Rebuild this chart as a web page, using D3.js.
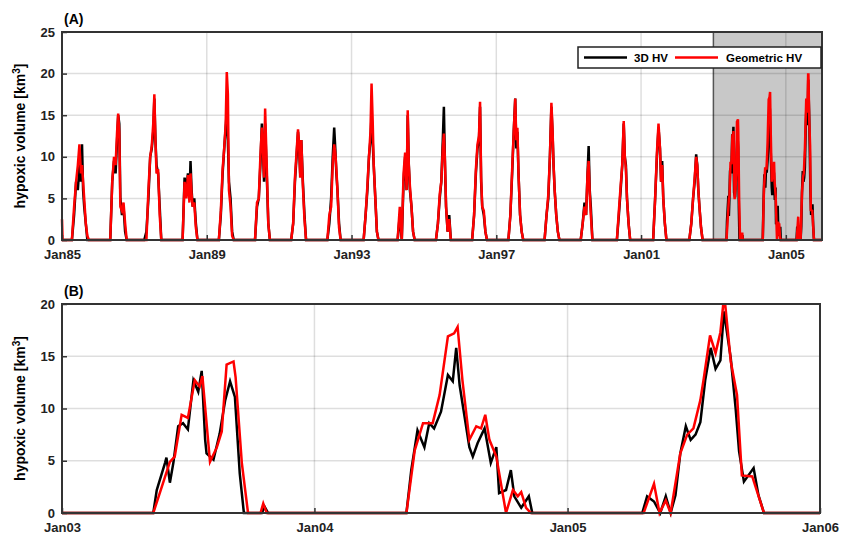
<!DOCTYPE html>
<html>
<head>
<meta charset="utf-8">
<script src="https://cdn.jsdelivr.net/npm/d3@7"></script>
<style>
body { margin: 0; background: #fff; }
text { font-family: "Liberation Sans", Arial, sans-serif; font-weight: bold; }
</style>
</head>
<body>
<script>
// panel A, 1985-2002: day-of-year grid and values per year
var aDays = [100,122,142,160,176,191,202,213,224,240,256,272,288,306];
var aYears = d3.range(1985, 2003);
var aBlack = [
  [0,3,7,6,9,7,11.5,6,4,2,0,0,0,0],
  [0,0,7,9.5,8,12,15,14,5,3,4,1,0,0],
  [0,1,5,10,11,13,17,12,9,8,4,0,0,0],
  [0,0,7.5,6,8,5,9.5,6,4,5,2,0,0,0],
  [0,0,3,8,11,13.5,15.5,12,7,5,1,0,0,0],
  [0,0,4,5,9,14,11,7,14,8,2,0,0,0],
  [0,0,2,7,10,13,11,8,12,7,3,0,0,0],
  [0,0,2,5,10,13.5,11,8,6,2,0,0,0,0],
  [0,0,3,6,10,12,15,12,9,5,1,0,0,0],
  [0,3,0,7,10,6,15,9,6,4,1,0,0,0],
  [0,0,2,5,7,12,16,9,4,1,3,0,0,0],
  [0,0,3,8,11,12,16,7,4,3,1,0,0,0],
  [0,0,3,8,13,17,11,13,8,3,1,0,0,0],
  [0,0,3,5,10,16,13,9,6,3,1,0,0,0],
  [0,0,2,4.5,3,8,11.3,6,4,0,0,0,0,0],
  [0,0,3,6,9,14,10,9,5,2,0,0,0,0],
  [0,0,5,10,13.5,11,7,9.5,5,2,0,0,0,0],
  [0,0,2,5,7,10.3,9,6,4,1.5,0,0,0,0]
];
var aRed = [
  [0,4,7,9,11.5,8,9,7,5,2,0.5,0,0,0],
  [0,0,7,10,9,13,15.2,13,4,3.5,4.5,2,0,0],
  [0,0,6,10,11.3,14,17.5,12,8,8.5,3,0,0,0],
  [0,0,7,5,7.8,4.5,8,5.5,4,4.5,1.5,0,0,0],
  [0,0,3.5,8.5,11,14,20.2,17.5,6,4,0.5,0,0,0],
  [0,0,4.5,5,10,13.5,11,7.5,15.8,9,2,0,0,0],
  [0,0,2,7.5,10.5,13.3,11.5,7.5,12,6.5,2.5,0,0,0],
  [0,0,3,4,9,11.5,10.5,8.5,6,1.5,0,0,0,0],
  [0,0,3,6.5,10,13,18.8,14.5,9,5,1,0,0,0],
  [0,4,0,8,10.5,6,15.6,9,6.5,4,1,0,0,0],
  [0,0,2,5.5,7,11,12.8,9.5,4,1,2.5,0,0,0],
  [0,0,3,8.5,11.5,12.5,16.6,7.5,4,3.5,1,0,0,0],
  [0,0,3,8.5,13,17,12,13.5,8,3,1,0,0,0],
  [0,0,3,5.5,10,16.5,13.5,9,6,3,1,0,0,0],
  [0,0,2,4,3,8,9.5,5.5,3,0,0,0,0,0],
  [0,0,3.5,6.5,9,14.3,10,8.5,5,2,0,0,0,0],
  [0,0,5,10.5,14,11,7,9,5,2,0,0,0,0],
  [0,0,2,5,7.5,10,9,6,4,1.5,0,0,0,0]
];
// red tail at the very start of 1985 (day, value)
var aRedStartDays = [0, 6];
var aRedStartVals = [2.5, 0];

// panel B, 2003-2005 (day of year, value)
var b03BlackDays = [132,137,149,151,156,161,168,175,182,190,197,202,207,209,219,228,236,243,250,257,263,289,293,298];
var b03BlackVals = [0,2.2,4.8,5.3,2.9,4.8,8.3,8.6,8.0,12.7,11.6,13.6,7.0,5.7,5.1,7.6,10.8,12.6,11.1,3.8,0,0,0.6,0];
var b03RedDays = [132,156,163,173,182,192,199,203,214,224,231,238,248,251,260,269,287,291,296];
var b03RedVals = [0,4.9,5.4,9.4,9.1,12.7,12.1,13.1,4.9,6.3,7.8,14.2,14.5,13.0,4.8,0,0,0.9,0];
var b04BlackDays = [133,140,149,159,166,173,183,193,200,205,210,224,229,236,246,255,263,267,277,284,289,299,310,315];
var b04BlackVals = [0,4.1,7.9,6.3,8.6,8.1,9.7,13.2,12.6,15.8,12.2,6.3,5.4,6.7,8.1,4.8,6.3,1.9,2.2,4.1,1.6,0.5,1.6,0];
var b04RedDays = [133,145,157,171,181,193,202,207,214,224,234,241,247,253,263,277,287,294,299,306,313];
var b04RedVals = [0,6.0,8.6,8.6,11.3,16.9,17.2,17.8,12.7,7.0,8.3,8.1,9.4,7.0,5.4,0,2.2,1.6,2.0,0.5,0];
var b05BlackDays = [108,115,125,134,142,149,156,163,171,178,185,192,199,207,214,221,226,236,243,248,255,269,276,284];
var b05BlackVals = [0,1.6,1.1,0,1.6,0,1.7,5.7,8.3,7.0,7.5,8.7,12.7,15.8,13.8,14.6,19.3,14.8,10.0,5.9,3.0,4.3,1.7,0];
var b05RedDays = [110,125,133,142,149,163,173,182,192,197,206,214,221,225,228,236,245,252,267,284];
var b05RedVals = [0,2.8,0,1.2,0,5.7,7.5,8.1,10.8,12.9,17.0,15.3,17.3,19.9,19.9,14.5,11.3,3.6,3.5,0];

var aTickYears = [1985,1989,1993,1997,2001,2005];
var bTickYears = [2003,2004,2005,2006];
var aYTicks = [0,5,10,15,20,25];
var bYTicks = [0,5,10,15,20];

function dt(y, d) { return new Date(y, 0, 1 + d); }
function pts(y, days, vals) { return days.map(function(d, i){ return {t: dt(y, d), v: vals[i]}; }); }
function lab(d) { return 'Jan' + String(d.getFullYear()).slice(2); }

// build full series, each padded with zeros between seasons
var black = [], red = [];
red = red.concat(pts(1985, aRedStartDays, aRedStartVals));
aYears.forEach(function(y, k) {
  black = black.concat(pts(y, aDays, aBlack[k]));
  red = red.concat(pts(y, aDays, aRed[k]));
});
var bB = pts(2003, b03BlackDays, b03BlackVals).concat(pts(2004, b04BlackDays, b04BlackVals), pts(2005, b05BlackDays, b05BlackVals));
var bR = pts(2003, b03RedDays, b03RedVals).concat(pts(2004, b04RedDays, b04RedVals), pts(2005, b05RedDays, b05RedVals));
black = [{t: dt(1985, 0), v: 0}].concat(black, bB, [{t: dt(2006, 0), v: 0}]);
red = red.concat(bR, [{t: dt(2006, 0), v: 0}]);
bB = [{t: dt(2003, 0), v: 0}].concat(bB, [{t: dt(2006, 0), v: 0}]);
bR = [{t: dt(2003, 0), v: 0}].concat(bR, [{t: dt(2006, 0), v: 0}]);

var svg = d3.select('body').append('svg').attr('width', 847).attr('height', 535);

function panel(top, bottom, right, x0, x1, ymax, yTicks, xTickYears, letter, sB, sR, shade) {
  var x = d3.scaleTime().domain([dt(x0, 0), dt(x1, 0)]).range([62, right]);
  var y = d3.scaleLinear().domain([0, ymax]).range([bottom, top]);
  var g = svg.append('g');
  if (shade) {
    g.append('rect').attr('x', x(dt(shade, 0))).attr('y', top)
      .attr('width', right - x(dt(shade, 0))).attr('height', bottom - top)
      .attr('fill', '#c8c8c8').attr('stroke', '#555').attr('stroke-width', 1.5);
  }
  var xt = xTickYears.map(function(yy){ return dt(yy, 0); });
  g.selectAll('.gx').data(xt).enter().append('line')
    .attr('x1', function(d){ return x(d); }).attr('x2', function(d){ return x(d); })
    .attr('y1', top).attr('y2', bottom).attr('stroke', '#000').attr('stroke-opacity', 0.13).attr('stroke-width', 1.5);
  g.selectAll('.gy').data(yTicks).enter().append('line')
    .attr('x1', 62).attr('x2', right)
    .attr('y1', function(d){ return y(d); }).attr('y2', function(d){ return y(d); })
    .attr('stroke', '#000').attr('stroke-opacity', 0.13).attr('stroke-width', 1.5);
  var line = d3.line().x(function(d){ return x(d.t); }).y(function(d){ return y(d.v); });
  g.append('path').datum(sB).attr('d', line).attr('fill', 'none').attr('stroke', '#000').attr('stroke-width', 2.5);
  g.append('path').datum(sR).attr('d', line).attr('fill', 'none').attr('stroke', '#ff0000').attr('stroke-width', 2.5);
  g.append('rect').attr('x', 62).attr('y', top).attr('width', right - 62).attr('height', bottom - top)
    .attr('fill', 'none').attr('stroke', '#333').attr('stroke-width', 2);
  var ax = g.append('g').attr('transform', 'translate(0,' + bottom + ')')
    .call(d3.axisBottom(x).tickValues(xt).tickFormat(lab).tickSize(-5).tickPadding(10));
  var ay = g.append('g').attr('transform', 'translate(62,0)')
    .call(d3.axisLeft(y).tickValues(yTicks).tickSize(-5).tickPadding(7));
  [ax, ay].forEach(function(a) {
    a.select('.domain').remove();
    a.selectAll('line').attr('stroke', '#333').attr('stroke-width', 1.5);
    a.selectAll('text').attr('font-size', 13).attr('fill', '#222')
      .style('font-family', '"Liberation Sans", Arial, sans-serif').style('font-weight', 'bold');
  });
  g.append('text').attr('x', 64).attr('y', top - 8).attr('font-size', 14).text(letter);
  var yl = g.append('text').attr('transform', 'translate(25,' + ((top + bottom) / 2) + ') rotate(-90)')
    .attr('text-anchor', 'middle').attr('font-size', 14);
  yl.append('tspan').text('hypoxic volume [km');
  yl.append('tspan').attr('baseline-shift', 'super').attr('font-size', 10).text('3');
  yl.append('tspan').text(']');
}

panel(32, 240, 822, 1985, 2006, 25, aYTicks, aTickYears, '(A)', black, red, 2003);
panel(304, 513, 820, 2003, 2006, 20, bYTicks, bTickYears, '(B)', bB, bR, null);

// legend
var lg = svg.append('g');
lg.append('rect').attr('x', 578).attr('y', 47).attr('width', 243).attr('height', 21)
  .attr('fill', '#fff').attr('stroke', '#222').attr('stroke-width', 1.5);
lg.append('line').attr('x1', 584).attr('x2', 627).attr('y1', 57.5).attr('y2', 57.5).attr('stroke', '#000').attr('stroke-width', 2.5);
lg.append('text').attr('x', 634).attr('y', 62).attr('font-size', 11.5).text('3D HV');
lg.append('line').attr('x1', 675).attr('x2', 718).attr('y1', 57.5).attr('y2', 57.5).attr('stroke', '#ff0000').attr('stroke-width', 2.5);
lg.append('text').attr('x', 726).attr('y', 62).attr('font-size', 11.5).text('Geometric HV');
</script>
</body>
</html>
